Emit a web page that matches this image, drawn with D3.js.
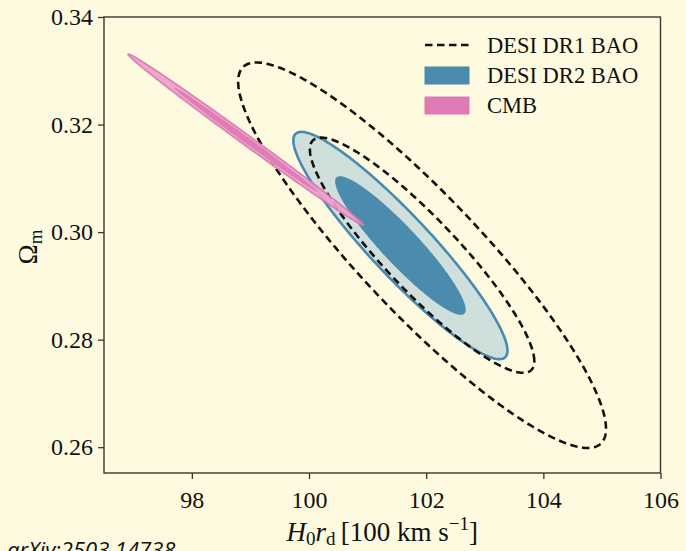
<!DOCTYPE html>
<html>
<head>
<meta charset="utf-8">
<script src="https://cdn.jsdelivr.net/npm/d3@7"></script>
<style>
  html, body { margin: 0; padding: 0; background: #fefadf; }
  svg { display: block; }
  text { font-family: "Liberation Serif", "Times New Roman", serif; fill: #111; }
</style>
</head>
<body>
<svg id="chart" width="686" height="551"></svg>
<script>
// Axis ranges and tick values
const xDomain = [96.5, 106];
const yDomain = [0.2552, 0.34];
const xTicks = [98, 100, 102, 104, 106];
const yTicks = [0.26, 0.28, 0.30, 0.32, 0.34];

// Gaussian posterior summaries for each dataset (H0 rd in 100 km/s, Omega_m)
const datasetNames = ["DESI DR1 BAO", "DESI DR2 BAO", "CMB"];
const meanH0rd    = [101.93, 101.56, 98.92];
const meanOmegaM  = [0.2957, 0.2975, 0.3172];
const sigmaH0rd   = [1.263, 0.735, 0.808];
const sigmaOmegaM = [0.01442, 0.0085, 0.0064];
const correlation = [-0.90, -0.925, -0.9974];

// Delta chi^2 thresholds for the 68% and 95% credible regions (2 parameters)
const contourLevels = [2.30, 6.18];

const W = 686, H = 551;
const plot = { left: 104, right: 660.5, top: 17, bottom: 473 };

const svg = d3.select("#chart");
svg.append("rect").attr("width", W).attr("height", H).attr("fill", "#fefadf");

const x = d3.scaleLinear().domain(xDomain).range([plot.left, plot.right]);
const y = d3.scaleLinear().domain(yDomain).range([plot.bottom, plot.top]);

svg.append("defs").append("clipPath").attr("id", "plot-clip")
  .append("rect")
  .attr("x", plot.left).attr("y", plot.top)
  .attr("width", plot.right - plot.left).attr("height", plot.bottom - plot.top);

// Closed contour of a bivariate Gaussian at a given Delta chi^2
function contour(i, dchi2) {
  const s = Math.sqrt(dchi2);
  const r = correlation[i];
  return d3.range(0, 360, 1).map(deg => {
    const t = deg * Math.PI / 180;
    return [
      meanH0rd[i] + s * sigmaH0rd[i] * Math.cos(t),
      meanOmegaM[i] + s * sigmaOmegaM[i] * (r * Math.cos(t) + Math.sqrt(1 - r * r) * Math.sin(t))
    ];
  });
}

const line = d3.line().x(d => x(d[0])).y(d => y(d[1])).curve(d3.curveLinearClosed);

const g = svg.append("g").attr("clip-path", "url(#plot-clip)");

// DESI DR2: filled contours
const dr2 = 1;
g.append("path").attr("d", line(contour(dr2, contourLevels[1])))
  .attr("fill", "#cfe0dc").attr("stroke", "#4a8ab0").attr("stroke-width", 2.6);
g.append("path").attr("d", line(contour(dr2, contourLevels[0])))
  .attr("fill", "#4b8cae").attr("stroke", "none");

// DESI DR1: dashed contour lines
const dr1 = 0;
contourLevels.forEach(lv => {
  g.append("path").attr("d", line(contour(dr1, lv)))
    .attr("fill", "none").attr("stroke", "#111")
    .attr("stroke-width", 2.6).attr("stroke-dasharray", "7.5,4.5");
});

// CMB: filled contours
const cmb = 2;
g.append("path").attr("d", line(contour(cmb, contourLevels[1])))
  .attr("fill", "#eba2cb").attr("stroke", "#dc77b2").attr("stroke-width", 1.7)
  .attr("opacity", 0.93);
g.append("path").attr("d", line(contour(cmb, contourLevels[0])))
  .attr("fill", "#df7ab5").attr("stroke", "none").attr("opacity", 0.93);

// Frame
svg.append("rect")
  .attr("x", plot.left).attr("y", plot.top)
  .attr("width", plot.right - plot.left).attr("height", plot.bottom - plot.top)
  .attr("fill", "none").attr("stroke", "#3a3530").attr("stroke-width", 1.4);

// Axes
const xAxis = svg.append("g").attr("transform", `translate(0,${plot.bottom})`)
  .call(d3.axisBottom(x).tickValues(xTicks).tickFormat(d3.format("d")).tickSize(6).tickPadding(6));
const yAxis = svg.append("g").attr("transform", `translate(${plot.left},0)`)
  .call(d3.axisLeft(y).tickValues(yTicks).tickFormat(d3.format(".2f")).tickSize(6).tickPadding(5));
[xAxis, yAxis].forEach(ax => {
  ax.select(".domain").remove();
  ax.selectAll(".tick line").attr("stroke", "#3a3530").attr("stroke-width", 1.3);
  ax.selectAll(".tick text")
    .attr("font-family", "Liberation Serif, serif").attr("font-size", 24).attr("fill", "#111");
});
xAxis.selectAll(".tick text").attr("dy", "0.95em");

// Axis titles
const xt = svg.append("text").attr("x", (plot.left + plot.right) / 2).attr("y", 541)
  .attr("text-anchor", "middle").attr("font-size", 27);
xt.append("tspan").attr("font-style", "italic").text("H");
xt.append("tspan").attr("font-size", 19).attr("dy", 4).text("0");
xt.append("tspan").attr("font-style", "italic").attr("dy", -4).text("r");
xt.append("tspan").attr("font-size", 19).attr("dy", 4).text("d");
xt.append("tspan").attr("dy", -4).text("\u2009[100 km s");
xt.append("tspan").attr("font-size", 19).attr("dy", -11).text("\u22121");
xt.append("tspan").attr("dy", 11).text("]");

const yt = svg.append("text")
  .attr("transform", "translate(37,247) rotate(-90)")
  .attr("text-anchor", "middle").attr("font-size", 27);
yt.append("tspan").text("\u03A9");
yt.append("tspan").attr("font-size", 19).attr("dy", 5).text("m");

// Legend
const legend = svg.append("g");
const lx = 425, lw = 44, tx = 487;
legend.append("line").attr("x1", lx).attr("x2", lx + lw).attr("y1", 45).attr("y2", 45)
  .attr("stroke", "#111").attr("stroke-width", 2.6).attr("stroke-dasharray", "7.5,4.5");
legend.append("rect").attr("x", lx).attr("y", 67).attr("width", lw).attr("height", 17)
  .attr("fill", "#4b8cae").attr("stroke", "#4a87a8").attr("stroke-width", 1);
legend.append("rect").attr("x", lx).attr("y", 97).attr("width", lw).attr("height", 17)
  .attr("fill", "#df7ab5").attr("stroke", "#dd78b3").attr("stroke-width", 1);
datasetNames.forEach((name, i) => {
  legend.append("text").attr("x", tx).attr("y", 53 + 30 * i)
    .attr("font-size", 22.5).text(name);
});

// Reference tag
svg.append("text").attr("x", 7).attr("y", 558)
  .attr("font-style", "italic").attr("font-size", 22).attr("fill", "#1e3f94")
  .style("font-family", "'Open Sans', sans-serif")
  .text("arXiv:2503.14738");
</script>
</body>
</html>
